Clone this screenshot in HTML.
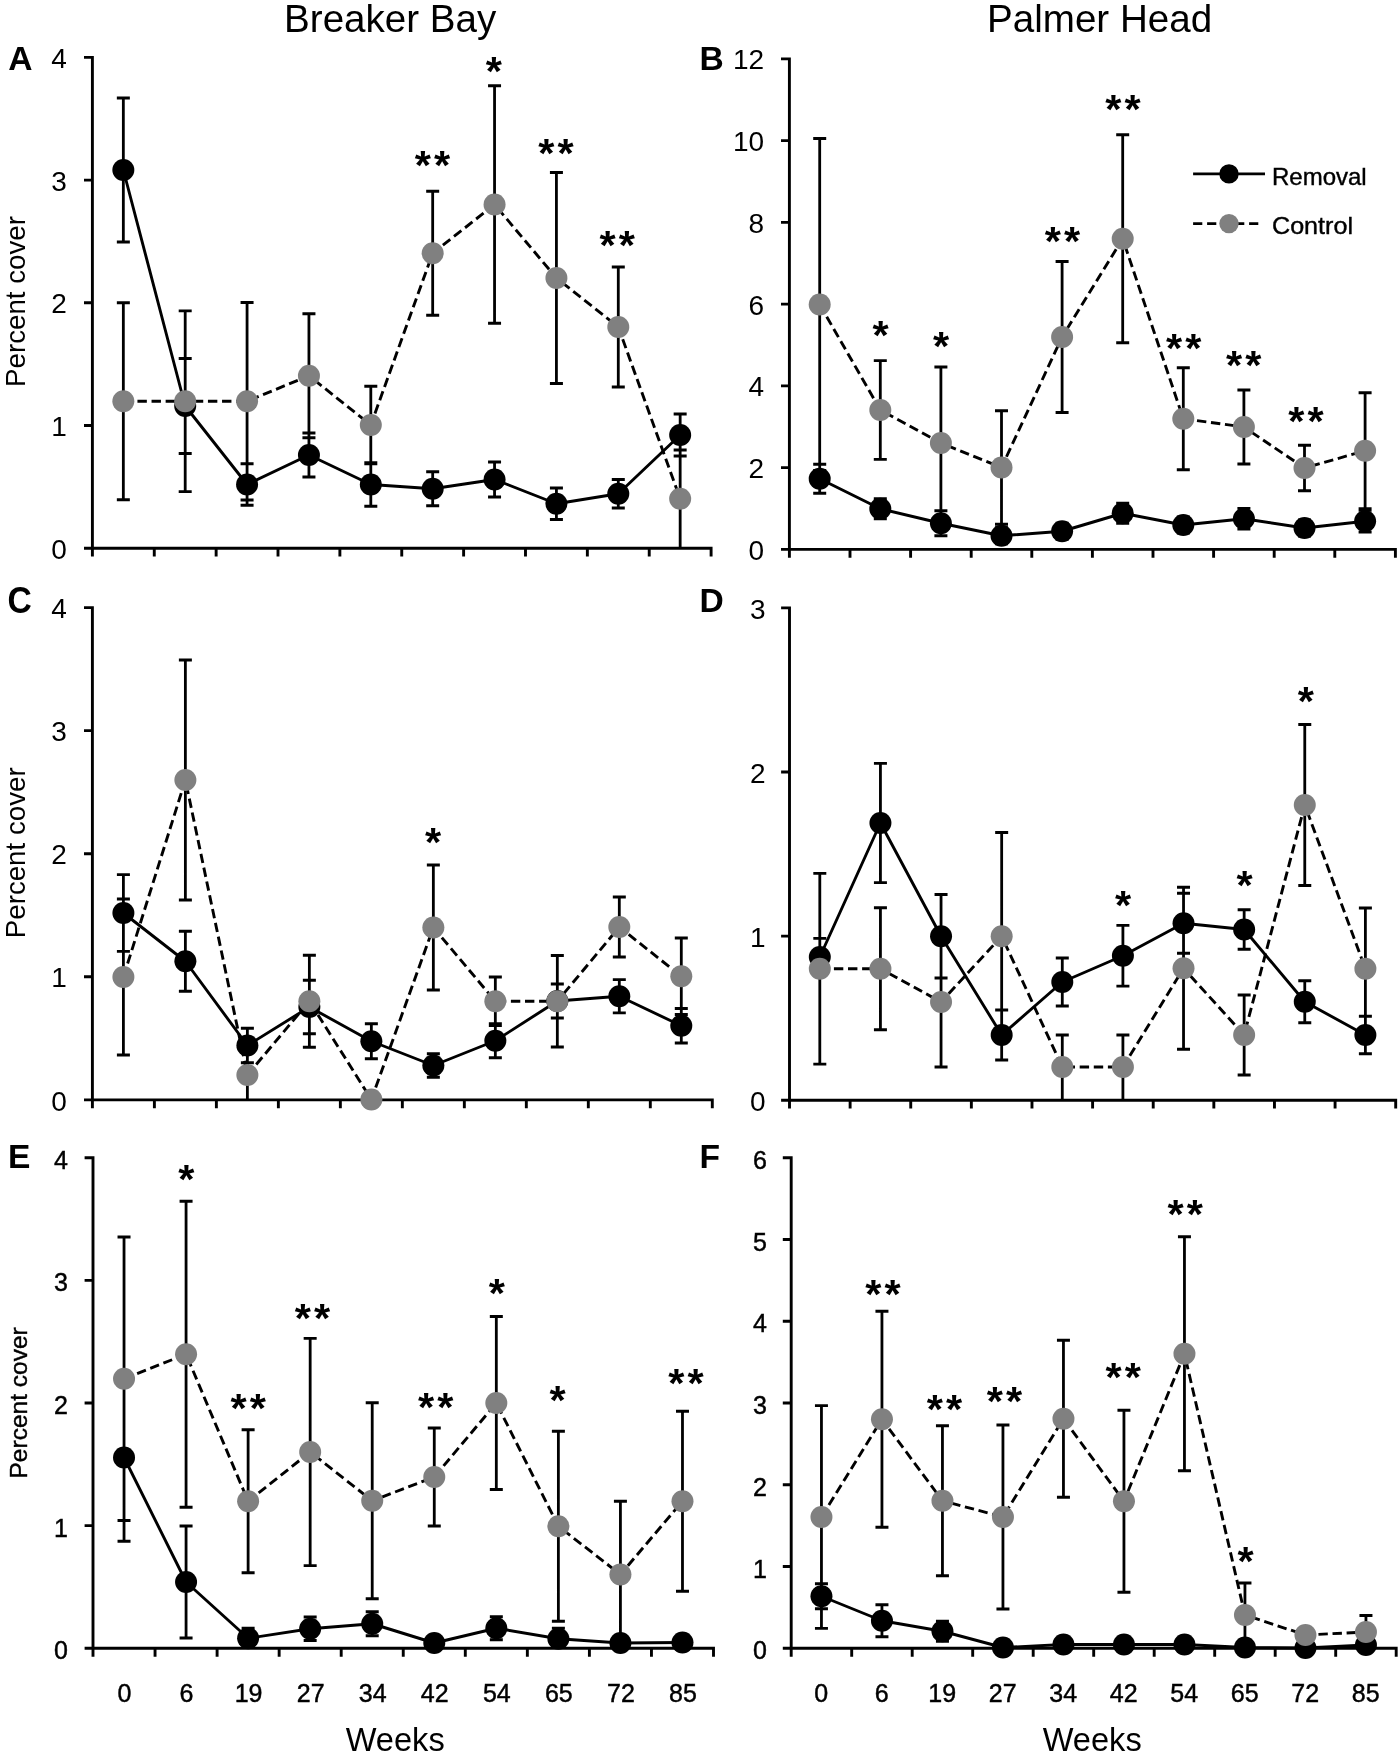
<!DOCTYPE html>
<html lang="en"><head><meta charset="utf-8"><title>Percent cover over weeks: Breaker Bay and Palmer Head</title>
<style>html,body{margin:0;padding:0;background:#fff}svg{display:block;filter:grayscale(1)}text{font-family:"Liberation Sans",Arial,Helvetica,sans-serif;fill:#000}</style></head><body>
<svg width="1400" height="1754" viewBox="0 0 1400 1754">
<rect width="1400" height="1754" fill="#fff"/>
<text x="390.2" y="32.3" font-size="38.6" text-anchor="middle">Breaker Bay</text>
<text x="1099.6" y="32.3" font-size="38.6" text-anchor="middle">Palmer Head</text>
<g id="panel-A">
<path d="M92.4 55.95V556.6M84 548.2H712.55M154.27 548.2v8.4M216.14 548.2v8.4M278.01 548.2v8.4M339.88 548.2v8.4M401.75 548.2v8.4M463.62 548.2v8.4M525.49 548.2v8.4M587.36 548.2v8.4M649.23 548.2v8.4M711.1 548.2v8.4M92.4 425.5h-8.4M92.4 302.8h-8.4M92.4 180.1h-8.4M92.4 57.4h-8.4" fill="none" stroke="#000" stroke-width="2.9"/>
<text x="66.8" y="558.6" font-size="28" text-anchor="end">0</text>
<text x="66.8" y="435.9" font-size="28" text-anchor="end">1</text>
<text x="66.8" y="313.2" font-size="28" text-anchor="end">2</text>
<text x="66.8" y="190.5" font-size="28" text-anchor="end">3</text>
<text x="66.8" y="67.8" font-size="28" text-anchor="end">4</text>
<polyline points="123.34,170 185.2,406 247.07,484.5 308.94,455 370.81,484.5 432.68,488.75 494.55,479.5 556.42,503.75 618.29,493.75 680.16,435" fill="none" stroke="#000" stroke-width="2.9" stroke-linejoin="round"/>
<polyline points="123.34,401.25 185.2,401.25 247.07,401.25 308.94,375.75 370.81,425 432.68,253.25 494.55,204.5 556.42,278 618.29,327 680.16,498.75" fill="none" stroke="#000" stroke-width="2.9" stroke-dasharray="9.4 4.7"/>
<path d="M116.84 98h13M123.34 98V242M116.84 242h13M178.7 358.5h13M185.2 358.5V453.5M178.7 453.5h13M240.57 463.75h13M247.07 463.75V505.25M240.57 505.25h13M302.44 433h13M308.94 433V477M302.44 477h13M364.31 462.75h13M370.81 462.75V506.25M364.31 506.25h13M426.18 471.75h13M432.68 471.75V505.75M426.18 505.75h13M488.05 462h13M494.55 462V497M488.05 497h13M549.92 488h13M556.42 488V519.5M549.92 519.5h13M611.79 479.5h13M618.29 479.5V508M611.79 508h13M673.66 414h13M680.16 414V456M673.66 456h13M116.84 302.75h13M123.34 302.75V499.75M116.84 499.75h13M178.7 310.85h13M185.2 310.85V491.65M178.7 491.65h13M240.57 302.5h13M247.07 302.5V500M240.57 500h13M302.44 313.75h13M308.94 313.75V437.75M302.44 437.75h13M364.31 386.25h13M370.81 386.25V463.75M364.31 463.75h13M426.18 191.25h13M432.68 191.25V315.25M426.18 315.25h13M488.05 85.75h13M494.55 85.75V323.25M488.05 323.25h13M549.92 172.5h13M556.42 172.5V383.5M549.92 383.5h13M611.79 267h13M618.29 267V387M611.79 387h13M673.66 450h13M680.16 450V548.2" fill="none" stroke="#000" stroke-width="2.8"/>
<circle cx="123.34" cy="170" r="11" fill="#000"/>
<circle cx="185.2" cy="406" r="11" fill="#000"/>
<circle cx="247.07" cy="484.5" r="11" fill="#000"/>
<circle cx="308.94" cy="455" r="11" fill="#000"/>
<circle cx="370.81" cy="484.5" r="11" fill="#000"/>
<circle cx="432.68" cy="488.75" r="11" fill="#000"/>
<circle cx="494.55" cy="479.5" r="11" fill="#000"/>
<circle cx="556.42" cy="503.75" r="11" fill="#000"/>
<circle cx="618.29" cy="493.75" r="11" fill="#000"/>
<circle cx="680.16" cy="435" r="11" fill="#000"/>
<circle cx="123.34" cy="401.25" r="11" fill="#808080"/>
<circle cx="185.2" cy="401.25" r="11" fill="#808080"/>
<circle cx="247.07" cy="401.25" r="11" fill="#808080"/>
<circle cx="308.94" cy="375.75" r="11" fill="#808080"/>
<circle cx="370.81" cy="425" r="11" fill="#808080"/>
<circle cx="432.68" cy="253.25" r="11" fill="#808080"/>
<circle cx="494.55" cy="204.5" r="11" fill="#808080"/>
<circle cx="556.42" cy="278" r="11" fill="#808080"/>
<circle cx="618.29" cy="327" r="11" fill="#808080"/>
<circle cx="680.16" cy="498.75" r="11" fill="#808080"/>
<text x="434" y="178.5" font-size="41.5" font-weight="bold" text-anchor="middle" letter-spacing="3">**</text>
<text x="493.75" y="85.1" font-size="41.5" font-weight="bold" text-anchor="middle">*</text>
<text x="557.5" y="166.5" font-size="41.5" font-weight="bold" text-anchor="middle" letter-spacing="3">**</text>
<text x="618.7" y="259" font-size="41.5" font-weight="bold" text-anchor="middle" letter-spacing="3">**</text>
<text x="8.3" y="70.1" font-size="33.6" font-weight="bold">A</text>
</g>
<g id="panel-B">
<path d="M789.4 57.45V557.8M781 549.4H1396.85M850 549.4v8.4M910.6 549.4v8.4M971.2 549.4v8.4M1031.8 549.4v8.4M1092.4 549.4v8.4M1153 549.4v8.4M1213.6 549.4v8.4M1274.2 549.4v8.4M1334.8 549.4v8.4M1395.4 549.4v8.4M789.4 467.65h-8.4M789.4 385.9h-8.4M789.4 304.15h-8.4M789.4 222.4h-8.4M789.4 140.65h-8.4M789.4 58.9h-8.4" fill="none" stroke="#000" stroke-width="2.9"/>
<text x="764.2" y="559.8" font-size="28" text-anchor="end">0</text>
<text x="764.2" y="478.05" font-size="28" text-anchor="end">2</text>
<text x="764.2" y="396.3" font-size="28" text-anchor="end">4</text>
<text x="764.2" y="314.55" font-size="28" text-anchor="end">6</text>
<text x="764.2" y="232.8" font-size="28" text-anchor="end">8</text>
<text x="764.2" y="151.05" font-size="28" text-anchor="end">10</text>
<text x="764.2" y="69.3" font-size="28" text-anchor="end">12</text>
<polyline points="819.7,478.75 880.3,508.75 940.9,523.25 1001.5,535.75 1062.1,531.25 1122.7,513.25 1183.3,525 1243.9,518.75 1304.5,528 1365.1,521.25" fill="none" stroke="#000" stroke-width="2.9" stroke-linejoin="round"/>
<polyline points="819.7,304.5 880.3,410 940.9,443 1001.5,467.5 1062.1,337 1122.7,238.75 1183.3,418.75 1243.9,427 1304.5,468 1365.1,450.75" fill="none" stroke="#000" stroke-width="2.9" stroke-dasharray="9.4 4.7"/>
<path d="M813.2 464.25h13M819.7 464.25V493.25M813.2 493.25h13M873.8 498.55h13M880.3 498.55V518.95M873.8 518.95h13M934.4 510.75h13M940.9 510.75V535.75M934.4 535.75h13M995 527.75h13M1001.5 527.75V543.75M995 543.75h13M1055.6 523.25h13M1062.1 523.25V539.25M1055.6 539.25h13M1116.2 503.05h13M1122.7 503.05V523.45M1116.2 523.45h13M1176.8 517h13M1183.3 517V533M1176.8 533h13M1237.4 508.35h13M1243.9 508.35V529.15M1237.4 529.15h13M1298 520h13M1304.5 520V536M1298 536h13M1358.6 510.45h13M1365.1 510.45V532.05M1358.6 532.05h13M813.2 138.5h13M819.7 138.5V470.5M813.2 470.5h13M873.8 360.6h13M880.3 360.6V459.4M873.8 459.4h13M934.4 367h13M940.9 367V519M934.4 519h13M995 410.75h13M1001.5 410.75V524.25M995 524.25h13M1055.6 261.5h13M1062.1 261.5V412.5M1055.6 412.5h13M1116.2 134.75h13M1122.7 134.75V342.75M1116.2 342.75h13M1176.8 367.75h13M1183.3 367.75V469.75M1176.8 469.75h13M1237.4 390h13M1243.9 390V464M1237.4 464h13M1298 445.25h13M1304.5 445.25V490.75M1298 490.75h13M1358.6 392.75h13M1365.1 392.75V508.75M1358.6 508.75h13" fill="none" stroke="#000" stroke-width="2.8"/>
<circle cx="819.7" cy="478.75" r="11" fill="#000"/>
<circle cx="880.3" cy="508.75" r="11" fill="#000"/>
<circle cx="940.9" cy="523.25" r="11" fill="#000"/>
<circle cx="1001.5" cy="535.75" r="11" fill="#000"/>
<circle cx="1062.1" cy="531.25" r="11" fill="#000"/>
<circle cx="1122.7" cy="513.25" r="11" fill="#000"/>
<circle cx="1183.3" cy="525" r="11" fill="#000"/>
<circle cx="1243.9" cy="518.75" r="11" fill="#000"/>
<circle cx="1304.5" cy="528" r="11" fill="#000"/>
<circle cx="1365.1" cy="521.25" r="11" fill="#000"/>
<circle cx="819.7" cy="304.5" r="11" fill="#808080"/>
<circle cx="880.3" cy="410" r="11" fill="#808080"/>
<circle cx="940.9" cy="443" r="11" fill="#808080"/>
<circle cx="1001.5" cy="467.5" r="11" fill="#808080"/>
<circle cx="1062.1" cy="337" r="11" fill="#808080"/>
<circle cx="1122.7" cy="238.75" r="11" fill="#808080"/>
<circle cx="1183.3" cy="418.75" r="11" fill="#808080"/>
<circle cx="1243.9" cy="427" r="11" fill="#808080"/>
<circle cx="1304.5" cy="468" r="11" fill="#808080"/>
<circle cx="1365.1" cy="450.75" r="11" fill="#808080"/>
<text x="880.5" y="349" font-size="41.5" font-weight="bold" text-anchor="middle">*</text>
<text x="941" y="360" font-size="41.5" font-weight="bold" text-anchor="middle">*</text>
<text x="1064" y="255" font-size="41.5" font-weight="bold" text-anchor="middle" letter-spacing="3">**</text>
<text x="1124.5" y="122.75" font-size="41.5" font-weight="bold" text-anchor="middle" letter-spacing="3">**</text>
<text x="1185.25" y="361.5" font-size="41.5" font-weight="bold" text-anchor="middle" letter-spacing="3">**</text>
<text x="1245.25" y="379" font-size="41.5" font-weight="bold" text-anchor="middle" letter-spacing="3">**</text>
<text x="1307.5" y="435" font-size="41.5" font-weight="bold" text-anchor="middle" letter-spacing="3">**</text>
<text x="699.4" y="70.1" font-size="33.6" font-weight="bold">B</text>
</g>
<g id="panel-C">
<path d="M92.4 606.13V1108.3M84 1099.9H713.75M154.39 1099.9v8.4M216.38 1099.9v8.4M278.37 1099.9v8.4M340.36 1099.9v8.4M402.35 1099.9v8.4M464.34 1099.9v8.4M526.33 1099.9v8.4M588.32 1099.9v8.4M650.31 1099.9v8.4M712.3 1099.9v8.4M92.4 976.82h-8.4M92.4 853.74h-8.4M92.4 730.66h-8.4M92.4 607.58h-8.4" fill="none" stroke="#000" stroke-width="2.9"/>
<text x="66.8" y="1110.5" font-size="28" text-anchor="end">0</text>
<text x="66.8" y="987.42" font-size="28" text-anchor="end">1</text>
<text x="66.8" y="864.34" font-size="28" text-anchor="end">2</text>
<text x="66.8" y="741.26" font-size="28" text-anchor="end">3</text>
<text x="66.8" y="618.18" font-size="28" text-anchor="end">4</text>
<polyline points="123.4,913 185.38,961.25 247.38,1045.5 309.37,1007 371.36,1041.25 433.35,1065.5 495.34,1040.75 557.33,1001 619.31,996.25 681.3,1025.75" fill="none" stroke="#000" stroke-width="2.9" stroke-linejoin="round"/>
<polyline points="123.4,977 185.38,780 247.38,1075 309.37,1001.25 371.36,1099.5 433.35,927.5 495.34,1001.25 557.33,1001.25 619.31,927 681.3,976.25" fill="none" stroke="#000" stroke-width="2.9" stroke-dasharray="9.4 4.7"/>
<path d="M116.9 874.6h13M123.4 874.6V951.4M116.9 951.4h13M178.88 931.25h13M185.38 931.25V991.25M178.88 991.25h13M240.88 1028.25h13M247.38 1028.25V1062.75M240.88 1062.75h13M302.87 980.25h13M309.37 980.25V1033.75M302.87 1033.75h13M364.86 1023.75h13M371.36 1023.75V1058.75M364.86 1058.75h13M426.85 1053.75h13M433.35 1053.75V1077.25M426.85 1077.25h13M488.84 1023.75h13M495.34 1023.75V1057.75M488.84 1057.75h13M550.83 984h13M557.33 984V1018M550.83 1018h13M612.81 979.65h13M619.31 979.65V1012.85M612.81 1012.85h13M674.8 1008.5h13M681.3 1008.5V1043M674.8 1043h13M116.9 899h13M123.4 899V1055M116.9 1055h13M178.88 660h13M185.38 660V900M178.88 900h13M240.88 1050h13M247.38 1050V1099.9M302.87 955.25h13M309.37 955.25V1047.25M302.87 1047.25h13M426.85 865h13M433.35 865V990M426.85 990h13M488.84 977h13M495.34 977V1025.5M488.84 1025.5h13M550.83 955.5h13M557.33 955.5V1047M550.83 1047h13M612.81 897h13M619.31 897V957M612.81 957h13M674.8 938h13M681.3 938V1014.5M674.8 1014.5h13" fill="none" stroke="#000" stroke-width="2.8"/>
<circle cx="123.4" cy="913" r="11" fill="#000"/>
<circle cx="185.38" cy="961.25" r="11" fill="#000"/>
<circle cx="247.38" cy="1045.5" r="11" fill="#000"/>
<circle cx="309.37" cy="1007" r="11" fill="#000"/>
<circle cx="371.36" cy="1041.25" r="11" fill="#000"/>
<circle cx="433.35" cy="1065.5" r="11" fill="#000"/>
<circle cx="495.34" cy="1040.75" r="11" fill="#000"/>
<circle cx="557.33" cy="1001" r="11" fill="#000"/>
<circle cx="619.31" cy="996.25" r="11" fill="#000"/>
<circle cx="681.3" cy="1025.75" r="11" fill="#000"/>
<circle cx="123.4" cy="977" r="11" fill="#808080"/>
<circle cx="185.38" cy="780" r="11" fill="#808080"/>
<circle cx="247.38" cy="1075" r="11" fill="#808080"/>
<circle cx="309.37" cy="1001.25" r="11" fill="#808080"/>
<circle cx="371.36" cy="1099.5" r="11" fill="#808080"/>
<circle cx="433.35" cy="927.5" r="11" fill="#808080"/>
<circle cx="495.34" cy="1001.25" r="11" fill="#808080"/>
<circle cx="557.33" cy="1001.25" r="11" fill="#808080"/>
<circle cx="619.31" cy="927" r="11" fill="#808080"/>
<circle cx="681.3" cy="976.25" r="11" fill="#808080"/>
<text x="433" y="856" font-size="41.5" font-weight="bold" text-anchor="middle">*</text>
<text x="7.4" y="612.6" font-size="37.2" font-weight="bold" textLength="24.3" lengthAdjust="spacingAndGlyphs">C</text>
</g>
<g id="panel-D">
<path d="M789.5 606.45V1108.6M781.1 1100.2H1397.15M850.12 1100.2v8.4M910.74 1100.2v8.4M971.36 1100.2v8.4M1031.98 1100.2v8.4M1092.6 1100.2v8.4M1153.22 1100.2v8.4M1213.84 1100.2v8.4M1274.46 1100.2v8.4M1335.08 1100.2v8.4M1395.7 1100.2v8.4M789.5 936.1h-8.4M789.5 772h-8.4M789.5 607.9h-8.4" fill="none" stroke="#000" stroke-width="2.9"/>
<text x="765.5" y="1111" font-size="28" text-anchor="end">0</text>
<text x="765.5" y="946.9" font-size="28" text-anchor="end">1</text>
<text x="765.5" y="782.8" font-size="28" text-anchor="end">2</text>
<text x="765.5" y="618.7" font-size="28" text-anchor="end">3</text>
<polyline points="819.81,957 880.43,823 941.05,936.25 1001.67,1035 1062.29,982 1122.91,955.75 1183.53,923.25 1244.15,929.5 1304.77,1001.75 1365.39,1035" fill="none" stroke="#000" stroke-width="2.9" stroke-linejoin="round"/>
<polyline points="819.81,968.75 880.43,968.75 941.05,1002 1001.67,936.25 1062.29,1067 1122.91,1067 1183.53,968.25 1244.15,1035 1304.77,805 1365.39,968.75" fill="none" stroke="#000" stroke-width="2.9" stroke-dasharray="9.4 4.7"/>
<path d="M813.31 938.4h13M819.81 938.4V975.6M813.31 975.6h13M873.93 763.4h13M880.43 763.4V882.6M873.93 882.6h13M934.55 894.5h13M941.05 894.5V978M934.55 978h13M995.17 1010h13M1001.67 1010V1060M995.17 1060h13M1055.79 958h13M1062.29 958V1006M1055.79 1006h13M1116.41 925.35h13M1122.91 925.35V986.15M1116.41 986.15h13M1177.03 893.25h13M1183.53 893.25V953.25M1177.03 953.25h13M1237.65 909.75h13M1244.15 909.75V949.25M1237.65 949.25h13M1298.27 980.75h13M1304.77 980.75V1022.75M1298.27 1022.75h13M1358.89 1016.25h13M1365.39 1016.25V1053.75M1358.89 1053.75h13M813.31 873.35h13M819.81 873.35V1064.15M813.31 1064.15h13M873.93 907.75h13M880.43 907.75V1029.75M873.93 1029.75h13M934.55 937h13M941.05 937V1067M934.55 1067h13M995.17 832.5h13M1001.67 832.5V1040M995.17 1040h13M1055.79 1035h13M1062.29 1035V1100.2M1116.41 1035h13M1122.91 1035V1100.2M1177.03 887.25h13M1183.53 887.25V1049.25M1177.03 1049.25h13M1237.65 995h13M1244.15 995V1075M1237.65 1075h13M1298.27 724.5h13M1304.77 724.5V885.5M1298.27 885.5h13M1358.89 908h13M1365.39 908V1029.5M1358.89 1029.5h13" fill="none" stroke="#000" stroke-width="2.8"/>
<circle cx="819.81" cy="957" r="11" fill="#000"/>
<circle cx="880.43" cy="823" r="11" fill="#000"/>
<circle cx="941.05" cy="936.25" r="11" fill="#000"/>
<circle cx="1001.67" cy="1035" r="11" fill="#000"/>
<circle cx="1062.29" cy="982" r="11" fill="#000"/>
<circle cx="1122.91" cy="955.75" r="11" fill="#000"/>
<circle cx="1183.53" cy="923.25" r="11" fill="#000"/>
<circle cx="1244.15" cy="929.5" r="11" fill="#000"/>
<circle cx="1304.77" cy="1001.75" r="11" fill="#000"/>
<circle cx="1365.39" cy="1035" r="11" fill="#000"/>
<circle cx="819.81" cy="968.75" r="11" fill="#808080"/>
<circle cx="880.43" cy="968.75" r="11" fill="#808080"/>
<circle cx="941.05" cy="1002" r="11" fill="#808080"/>
<circle cx="1001.67" cy="936.25" r="11" fill="#808080"/>
<circle cx="1062.29" cy="1067" r="11" fill="#808080"/>
<circle cx="1122.91" cy="1067" r="11" fill="#808080"/>
<circle cx="1183.53" cy="968.25" r="11" fill="#808080"/>
<circle cx="1244.15" cy="1035" r="11" fill="#808080"/>
<circle cx="1304.77" cy="805" r="11" fill="#808080"/>
<circle cx="1365.39" cy="968.75" r="11" fill="#808080"/>
<text x="1123" y="918.5" font-size="41.5" font-weight="bold" text-anchor="middle">*</text>
<text x="1244.5" y="899" font-size="41.5" font-weight="bold" text-anchor="middle">*</text>
<text x="1305.75" y="715.25" font-size="41.5" font-weight="bold" text-anchor="middle">*</text>
<text x="699.4" y="612.3" font-size="33.6" font-weight="bold">D</text>
</g>
<g id="panel-E">
<path d="M93 1156.24V1656.65M84.6 1648.25H714.95M155.05 1648.25v8.4M217.1 1648.25v8.4M279.15 1648.25v8.4M341.2 1648.25v8.4M403.25 1648.25v8.4M465.3 1648.25v8.4M527.35 1648.25v8.4M589.4 1648.25v8.4M651.45 1648.25v8.4M713.5 1648.25v8.4M93 1525.61h-8.4M93 1402.97h-8.4M93 1280.33h-8.4M93 1157.69h-8.4" fill="none" stroke="#000" stroke-width="2.9"/>
<text x="68" y="1659.25" font-size="25" text-anchor="end" stroke="#000" stroke-width="0.45">0</text>
<text x="68" y="1536.61" font-size="25" text-anchor="end" stroke="#000" stroke-width="0.45">1</text>
<text x="68" y="1413.97" font-size="25" text-anchor="end" stroke="#000" stroke-width="0.45">2</text>
<text x="68" y="1291.33" font-size="25" text-anchor="end" stroke="#000" stroke-width="0.45">3</text>
<text x="68" y="1168.69" font-size="25" text-anchor="end" stroke="#000" stroke-width="0.45">4</text>
<polyline points="124.03,1457.5 186.07,1582 248.12,1638.25 310.17,1628.75 372.22,1623.75 434.27,1643 496.32,1628.25 558.38,1638.75 620.42,1643 682.48,1642.5" fill="none" stroke="#000" stroke-width="2.9" stroke-linejoin="round"/>
<polyline points="124.03,1378.75 186.07,1354.25 248.12,1501.25 310.17,1452 372.22,1500.75 434.27,1477 496.32,1403 558.38,1526.25 620.42,1574.5 682.48,1501.25" fill="none" stroke="#000" stroke-width="2.9" stroke-dasharray="9.4 4.7"/>
<path d="M117.53 1373.75h13M124.03 1373.75V1541.25M117.53 1541.25h13M179.57 1526h13M186.07 1526V1638M179.57 1638h13M241.62 1628.05h13M248.12 1628.05V1648.25M303.67 1617h13M310.17 1617V1640.5M303.67 1640.5h13M365.72 1611.75h13M372.22 1611.75V1635.75M365.72 1635.75h13M489.82 1616.75h13M496.32 1616.75V1639.75M489.82 1639.75h13M551.88 1628.15h13M558.38 1628.15V1648.25M117.53 1237h13M124.03 1237V1520.5M117.53 1520.5h13M179.57 1201.25h13M186.07 1201.25V1507.25M179.57 1507.25h13M241.62 1429.75h13M248.12 1429.75V1572.75M241.62 1572.75h13M303.67 1338.4h13M310.17 1338.4V1565.6M303.67 1565.6h13M365.72 1402.75h13M372.22 1402.75V1598.75M365.72 1598.75h13M427.77 1428h13M434.27 1428V1526M427.77 1526h13M489.82 1316.5h13M496.32 1316.5V1489.5M489.82 1489.5h13M551.88 1431.25h13M558.38 1431.25V1621.25M551.88 1621.25h13M613.92 1501.25h13M620.42 1501.25V1648.25M675.98 1411.25h13M682.48 1411.25V1591.25M675.98 1591.25h13" fill="none" stroke="#000" stroke-width="2.8"/>
<circle cx="124.03" cy="1457.5" r="11" fill="#000"/>
<circle cx="186.07" cy="1582" r="11" fill="#000"/>
<circle cx="248.12" cy="1638.25" r="11" fill="#000"/>
<circle cx="310.17" cy="1628.75" r="11" fill="#000"/>
<circle cx="372.22" cy="1623.75" r="11" fill="#000"/>
<circle cx="434.27" cy="1643" r="11" fill="#000"/>
<circle cx="496.32" cy="1628.25" r="11" fill="#000"/>
<circle cx="558.38" cy="1638.75" r="11" fill="#000"/>
<circle cx="620.42" cy="1643" r="11" fill="#000"/>
<circle cx="682.48" cy="1642.5" r="11" fill="#000"/>
<circle cx="124.03" cy="1378.75" r="11" fill="#808080"/>
<circle cx="186.07" cy="1354.25" r="11" fill="#808080"/>
<circle cx="248.12" cy="1501.25" r="11" fill="#808080"/>
<circle cx="310.17" cy="1452" r="11" fill="#808080"/>
<circle cx="372.22" cy="1500.75" r="11" fill="#808080"/>
<circle cx="434.27" cy="1477" r="11" fill="#808080"/>
<circle cx="496.32" cy="1403" r="11" fill="#808080"/>
<circle cx="558.38" cy="1526.25" r="11" fill="#808080"/>
<circle cx="620.42" cy="1574.5" r="11" fill="#808080"/>
<circle cx="682.48" cy="1501.25" r="11" fill="#808080"/>
<text x="186.25" y="1192.75" font-size="41.5" font-weight="bold" text-anchor="middle">*</text>
<text x="249.75" y="1422.25" font-size="41.5" font-weight="bold" text-anchor="middle" letter-spacing="3">**</text>
<text x="314" y="1331.5" font-size="41.5" font-weight="bold" text-anchor="middle" letter-spacing="3">**</text>
<text x="437.25" y="1421" font-size="41.5" font-weight="bold" text-anchor="middle" letter-spacing="3">**</text>
<text x="496.75" y="1307.25" font-size="41.5" font-weight="bold" text-anchor="middle">*</text>
<text x="557.5" y="1414" font-size="41.5" font-weight="bold" text-anchor="middle">*</text>
<text x="687.5" y="1396.5" font-size="41.5" font-weight="bold" text-anchor="middle" letter-spacing="3">**</text>
<text x="7.9" y="1167.8" font-size="33.6" font-weight="bold">E</text>
</g>
<g id="panel-F">
<path d="M791.2 1156.36V1656.65M782.8 1648.25H1397.65M851.7 1648.25v8.4M912.2 1648.25v8.4M972.7 1648.25v8.4M1033.2 1648.25v8.4M1093.7 1648.25v8.4M1154.2 1648.25v8.4M1214.7 1648.25v8.4M1275.2 1648.25v8.4M1335.7 1648.25v8.4M1396.2 1648.25v8.4M791.2 1566.51h-8.4M791.2 1484.77h-8.4M791.2 1403.03h-8.4M791.2 1321.29h-8.4M791.2 1239.55h-8.4M791.2 1157.81h-8.4" fill="none" stroke="#000" stroke-width="2.9"/>
<text x="767" y="1659.25" font-size="25" text-anchor="end" stroke="#000" stroke-width="0.45">0</text>
<text x="767" y="1577.51" font-size="25" text-anchor="end" stroke="#000" stroke-width="0.45">1</text>
<text x="767" y="1495.77" font-size="25" text-anchor="end" stroke="#000" stroke-width="0.45">2</text>
<text x="767" y="1414.03" font-size="25" text-anchor="end" stroke="#000" stroke-width="0.45">3</text>
<text x="767" y="1332.29" font-size="25" text-anchor="end" stroke="#000" stroke-width="0.45">4</text>
<text x="767" y="1250.55" font-size="25" text-anchor="end" stroke="#000" stroke-width="0.45">5</text>
<text x="767" y="1168.81" font-size="25" text-anchor="end" stroke="#000" stroke-width="0.45">6</text>
<polyline points="821.45,1596.25 881.95,1620.75 942.45,1631.25 1002.95,1647.5 1063.45,1644.5 1123.95,1644.5 1184.45,1644.5 1244.95,1647.5 1305.45,1648 1365.95,1645" fill="none" stroke="#000" stroke-width="2.9" stroke-linejoin="round"/>
<polyline points="821.45,1517 881.95,1419.25 942.45,1500.75 1002.95,1517 1063.45,1418.75 1123.95,1501.25 1184.45,1353.75 1244.95,1615 1305.45,1635 1365.95,1632" fill="none" stroke="#000" stroke-width="2.9" stroke-dasharray="9.4 4.7"/>
<path d="M814.95 1583.75h13M821.45 1583.75V1608.75M814.95 1608.75h13M875.45 1604.75h13M881.95 1604.75V1636.75M875.45 1636.75h13M935.95 1621.05h13M942.45 1621.05V1641.45M935.95 1641.45h13M814.95 1405.6h13M821.45 1405.6V1628.4M814.95 1628.4h13M875.45 1311.25h13M881.95 1311.25V1527.25M875.45 1527.25h13M935.95 1425.75h13M942.45 1425.75V1575.75M935.95 1575.75h13M996.45 1425h13M1002.95 1425V1609M996.45 1609h13M1056.95 1340.25h13M1063.45 1340.25V1497.25M1056.95 1497.25h13M1117.45 1410.25h13M1123.95 1410.25V1592.25M1117.45 1592.25h13M1177.95 1236.75h13M1184.45 1236.75V1470.75M1177.95 1470.75h13M1238.45 1583h13M1244.95 1583V1648.25M1359.45 1615.5h13M1365.95 1615.5V1648.25" fill="none" stroke="#000" stroke-width="2.8"/>
<circle cx="821.45" cy="1596.25" r="11" fill="#000"/>
<circle cx="881.95" cy="1620.75" r="11" fill="#000"/>
<circle cx="942.45" cy="1631.25" r="11" fill="#000"/>
<circle cx="1002.95" cy="1647.5" r="11" fill="#000"/>
<circle cx="1063.45" cy="1644.5" r="11" fill="#000"/>
<circle cx="1123.95" cy="1644.5" r="11" fill="#000"/>
<circle cx="1184.45" cy="1644.5" r="11" fill="#000"/>
<circle cx="1244.95" cy="1647.5" r="11" fill="#000"/>
<circle cx="1305.45" cy="1648" r="11" fill="#000"/>
<circle cx="1365.95" cy="1645" r="11" fill="#000"/>
<circle cx="821.45" cy="1517" r="11" fill="#808080"/>
<circle cx="881.95" cy="1419.25" r="11" fill="#808080"/>
<circle cx="942.45" cy="1500.75" r="11" fill="#808080"/>
<circle cx="1002.95" cy="1517" r="11" fill="#808080"/>
<circle cx="1063.45" cy="1418.75" r="11" fill="#808080"/>
<circle cx="1123.95" cy="1501.25" r="11" fill="#808080"/>
<circle cx="1184.45" cy="1353.75" r="11" fill="#808080"/>
<circle cx="1244.95" cy="1615" r="11" fill="#808080"/>
<circle cx="1305.45" cy="1635" r="11" fill="#808080"/>
<circle cx="1365.95" cy="1632" r="11" fill="#808080"/>
<text x="884.5" y="1307.75" font-size="41.5" font-weight="bold" text-anchor="middle" letter-spacing="3">**</text>
<text x="946" y="1422.75" font-size="41.5" font-weight="bold" text-anchor="middle" letter-spacing="3">**</text>
<text x="1006" y="1414.5" font-size="41.5" font-weight="bold" text-anchor="middle" letter-spacing="3">**</text>
<text x="1124.75" y="1391" font-size="41.5" font-weight="bold" text-anchor="middle" letter-spacing="3">**</text>
<text x="1186.7" y="1228" font-size="41.5" font-weight="bold" text-anchor="middle" letter-spacing="3">**</text>
<text x="1245.5" y="1575.25" font-size="41.5" font-weight="bold" text-anchor="middle">*</text>
<text x="699.4" y="1167.8" font-size="33.6" font-weight="bold">F</text>
</g>
<text transform="translate(25.1 301.5) rotate(-90)" font-size="27.7" text-anchor="middle">Percent cover</text>
<text transform="translate(25.1 852.8) rotate(-90)" font-size="27.7" text-anchor="middle">Percent cover</text>
<text transform="translate(27.4 1402.9) rotate(-90)" font-size="24.5" text-anchor="middle" stroke="#000" stroke-width="0.4">Percent cover</text>
<text x="124.53" y="1702" font-size="25" text-anchor="middle" stroke="#000" stroke-width="0.45">0</text>
<text x="186.57" y="1702" font-size="25" text-anchor="middle" stroke="#000" stroke-width="0.45">6</text>
<text x="248.62" y="1702" font-size="25" text-anchor="middle" stroke="#000" stroke-width="0.45">19</text>
<text x="310.67" y="1702" font-size="25" text-anchor="middle" stroke="#000" stroke-width="0.45">27</text>
<text x="372.72" y="1702" font-size="25" text-anchor="middle" stroke="#000" stroke-width="0.45">34</text>
<text x="434.77" y="1702" font-size="25" text-anchor="middle" stroke="#000" stroke-width="0.45">42</text>
<text x="496.82" y="1702" font-size="25" text-anchor="middle" stroke="#000" stroke-width="0.45">54</text>
<text x="558.88" y="1702" font-size="25" text-anchor="middle" stroke="#000" stroke-width="0.45">65</text>
<text x="620.92" y="1702" font-size="25" text-anchor="middle" stroke="#000" stroke-width="0.45">72</text>
<text x="682.98" y="1702" font-size="25" text-anchor="middle" stroke="#000" stroke-width="0.45">85</text>
<text x="821.15" y="1702" font-size="25" text-anchor="middle" stroke="#000" stroke-width="0.45">0</text>
<text x="881.65" y="1702" font-size="25" text-anchor="middle" stroke="#000" stroke-width="0.45">6</text>
<text x="942.15" y="1702" font-size="25" text-anchor="middle" stroke="#000" stroke-width="0.45">19</text>
<text x="1002.65" y="1702" font-size="25" text-anchor="middle" stroke="#000" stroke-width="0.45">27</text>
<text x="1063.15" y="1702" font-size="25" text-anchor="middle" stroke="#000" stroke-width="0.45">34</text>
<text x="1123.65" y="1702" font-size="25" text-anchor="middle" stroke="#000" stroke-width="0.45">42</text>
<text x="1184.15" y="1702" font-size="25" text-anchor="middle" stroke="#000" stroke-width="0.45">54</text>
<text x="1244.65" y="1702" font-size="25" text-anchor="middle" stroke="#000" stroke-width="0.45">65</text>
<text x="1305.15" y="1702" font-size="25" text-anchor="middle" stroke="#000" stroke-width="0.45">72</text>
<text x="1365.65" y="1702" font-size="25" text-anchor="middle" stroke="#000" stroke-width="0.45">85</text>
<text x="395.2" y="1751" font-size="32.6" text-anchor="middle">Weeks</text>
<text x="1092.2" y="1751" font-size="32.6" text-anchor="middle">Weeks</text>
<g id="legend">
<path d="M1193.1 173.9H1265" stroke="#000" stroke-width="2.9" fill="none"/>
<circle cx="1229" cy="173.9" r="9.7" fill="#000"/>
<text x="1272" y="184.6" font-size="24" stroke="#000" stroke-width="0.4">Removal</text>
<path d="M1193.1 223.6H1259" stroke="#000" stroke-width="2.9" fill="none" stroke-dasharray="9.2 4.8"/>
<circle cx="1229" cy="223.6" r="9.7" fill="#808080"/>
<text x="1272" y="234" font-size="24" stroke="#000" stroke-width="0.4" textLength="81" lengthAdjust="spacingAndGlyphs">Control</text>
</g>
</svg></body></html>
